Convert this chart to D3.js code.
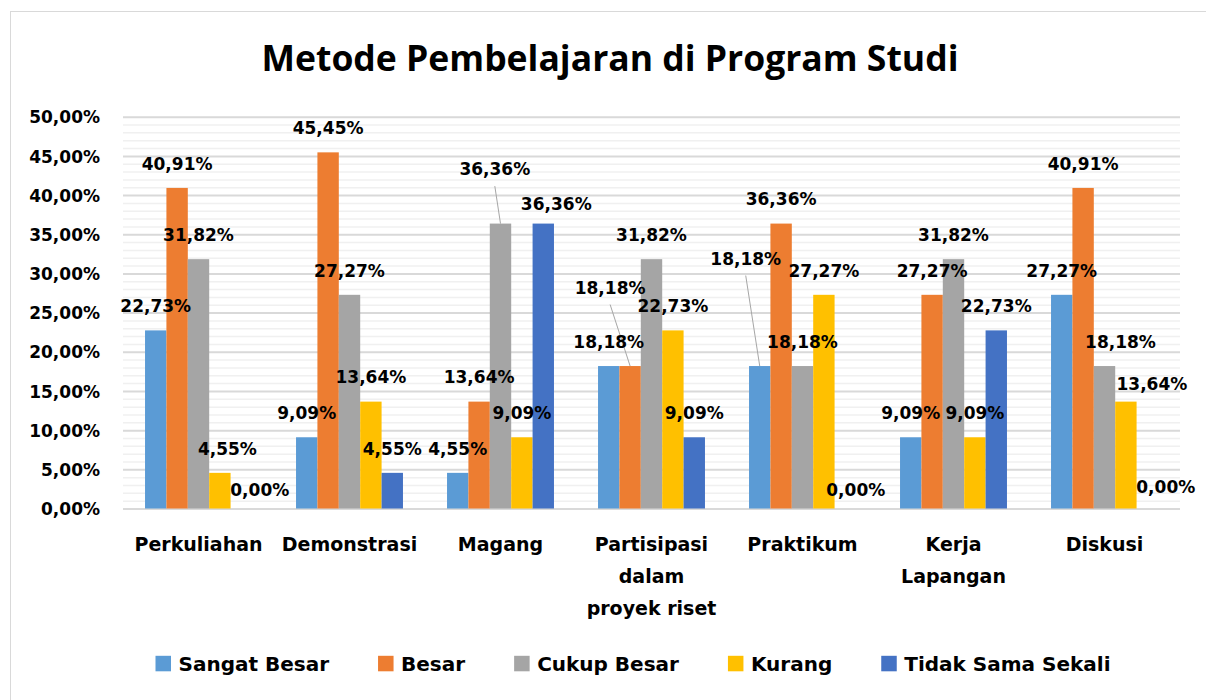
<!DOCTYPE html>
<meta charset="utf-8">
<style>
body { margin: 0; background: #fff; }
text { fill: #000; font-family: "DejaVu Sans", sans-serif; font-weight: bold; }
.title { font-family: "Open Sans", sans-serif; font-size: 35.5px; }
.tick-label { font-size: 17px; }
.data-label { font-size: 17px; }
.cat-label { font-size: 19px; }
.legend text { font-size: 20px; }
</style>
<script src="https://cdn.jsdelivr.net/npm/d3@7"></script>
<svg width="1206" height="700"></svg>
<script>

var categories = ["Perkuliahan", "Demonstrasi", "Magang", "Partisipasi\ndalam\nproyek riset", "Praktikum", "Kerja\nLapangan", "Diskusi"];
var series = ["Sangat Besar", "Besar", "Cukup Besar", "Kurang", "Tidak Sama Sekali"];

// percent per series, one value per category
var sangatBesar = [22.73, 9.09, 4.55, 18.18, 18.18, 9.09, 27.27];
var besar       = [40.91, 45.45, 13.64, 18.18, 36.36, 27.27, 40.91];
var cukupBesar  = [31.82, 27.27, 36.36, 31.82, 18.18, 31.82, 18.18];
var kurang      = [4.55, 13.64, 9.09, 22.73, 27.27, 9.09, 13.64];
var tidakSama   = [0.00, 4.55, 36.36, 9.09, 0.00, 22.73, 0.00];

var yTicks = [0, 5, 10, 15, 20, 25, 30, 35, 40, 45, 50];

var colors = ["#5b9bd5", "#ed7d31", "#a5a5a5", "#ffc000", "#4472c4"];

// hand placed labels in the original: [category, series, dx, dy]
var labelNudge = [
  [0, 3, 7.5, 0], [0, 4, 18.5, 6],
  [2, 2, -5.7, -30], [2, 4, 13, 4.5],
  [3, 1, -20, -54],
  [4, 0, -14, -83], [4, 4, 10.5, 6],
  [6, 2, 16, 0], [6, 3, 26, 6.5], [6, 4, 18.5, 2.5]
];

var values = [sangatBesar, besar, cukupBesar, kurang, tidakSama];

var svg = d3.select("svg");

svg.append("rect")
    .attr("x", 10.5).attr("y", 11.5)
    .attr("width", 1200).attr("height", 700)
    .attr("fill", "#fff")
    .attr("stroke", "#d9d9d9");

var x0 = d3.scaleBand().domain(categories).range([123, 1180]);
var x1 = d3.scaleBand().domain(series).range([0, x0.bandwidth()]).paddingOuter(1.03);
var y = d3.scaleLinear().domain([0, 50]).range([508.5, 116.7]);

var fmt = function(v) { return d3.format(".2f")(v).replace(".", ",") + "%"; };

svg.append("text")
    .attr("class", "title")
    .attr("x", 610).attr("y", 71)
    .attr("text-anchor", "middle")
    .text("Metode Pembelajaran di Program Studi");

// minor gridlines
svg.append("g")
    .attr("transform", "translate(123,0)")
    .call(d3.axisLeft(y).tickValues(d3.range(1, 50, 1).filter(function(d) { return d % 5; }))
      .tickSize(-(1180 - 123)).tickFormat(""))
    .call(function(g) {
      g.select(".domain").remove();
      g.selectAll("line").attr("stroke", "#f0f0f0").attr("stroke-width", 1.5);
    });

// major gridlines
svg.append("g")
    .attr("transform", "translate(123,0)")
    .call(d3.axisLeft(y).tickValues(yTicks).tickSize(-(1180 - 123)).tickFormat(""))
    .call(function(g) {
      g.select(".domain").remove();
      g.selectAll("line").attr("stroke", "#d9d9d9").attr("stroke-width", 2);
    });

// y axis labels
svg.append("g")
    .attr("transform", "translate(123,0)")
    .call(d3.axisLeft(y).tickValues(yTicks).tickSize(0).tickPadding(23).tickFormat(fmt))
    .call(function(g) {
      g.select(".domain").remove();
      g.attr("font-family", null).attr("font-size", null);
      g.selectAll("text")
        .attr("class", "tick-label")
        .attr("dy", null)
        .attr("y", 6.2);
    });

var rows = [];
categories.forEach(function(c, ci) {
  series.forEach(function(s, si) {
    var nudge = labelNudge.find(function(n) { return n[0] === ci && n[1] === si; });
    rows.push({ cat: c, ser: s, ci: ci, si: si, value: values[si][ci],
                dx: nudge ? nudge[2] : 0, dy: nudge ? nudge[3] : 0 });
  });
});

var bars = svg.append("g");
bars.selectAll("rect")
  .data(rows.filter(function(d) { return d.value > 0; }))
  .enter().append("rect")
    .attr("x", function(d) { return x0(d.cat) + x1(d.ser); })
    .attr("y", function(d) { return y(d.value); })
    .attr("width", x1.bandwidth())
    .attr("height", function(d) { return y(0) - y(d.value); })
    .attr("fill", function(d) { return colors[d.si]; });

function labelX(d) { return x0(d.cat) + x1(d.ser) + x1.bandwidth() / 2 + d.dx; }
function labelY(d) { return y(d.value) - 24.5 + d.dy; }

// leader lines for labels pulled far from their bars
svg.append("g").selectAll("line")
  .data(rows.filter(function(d) { return d.dy < -25; }))
  .enter().append("line")
    .attr("x1", function(d) { return labelX(d); })
    .attr("y1", function(d) { return labelY(d) + 17; })
    .attr("x2", function(d) { return x0(d.cat) + x1(d.ser) + x1.bandwidth() / 2; })
    .attr("y2", function(d) { return y(d.value); })
    .attr("stroke", "#a6a6a6").attr("stroke-width", 1);

svg.append("g").selectAll("text")
  .data(rows)
  .enter().append("text")
    .attr("class", "data-label")
    .attr("text-anchor", "middle")
    .attr("x", labelX)
    .attr("y", function(d) { return labelY(d) + 6.2; })
    .text(function(d) { return fmt(d.value); });

// category labels
var cat = svg.append("g").selectAll("text")
  .data(categories)
  .enter().append("text")
    .attr("class", "cat-label")
    .attr("text-anchor", "middle")
    .attr("x", function(d) { return x0(d) + x0.bandwidth() / 2; })
    .attr("y", 550.6);
cat.selectAll("tspan")
  .data(function(d) { return d.split("\n").map(function(t) { return { t: t, x: x0(d) + x0.bandwidth() / 2 }; }); })
  .enter().append("tspan")
    .attr("x", function(d) { return d.x; })
    .attr("dy", function(d, i) { return i ? 32 : 0; })
    .text(function(d) { return d.t; });

// legend
var legend = svg.append("g").attr("class", "legend");
var items = legend.selectAll("g").data(series).enter().append("g");
items.append("rect")
    .attr("width", 15.5).attr("height", 15.5)
    .attr("y", 655.8)
    .attr("fill", function(d, i) { return colors[i]; });
items.append("text")
    .attr("x", 23)
    .attr("y", 670.8)
    .text(function(d) { return d; });

var pos = 0;
var offsets = [];
items.each(function() {
  offsets.push(pos);
  pos += 23 + this.querySelector("text").getComputedTextLength() + 49;
});
var total = pos - 49;
var start = 633 - total / 2;
items.attr("transform", function(d, i) { return "translate(" + (start + offsets[i]) + ",0)"; });

</script>
